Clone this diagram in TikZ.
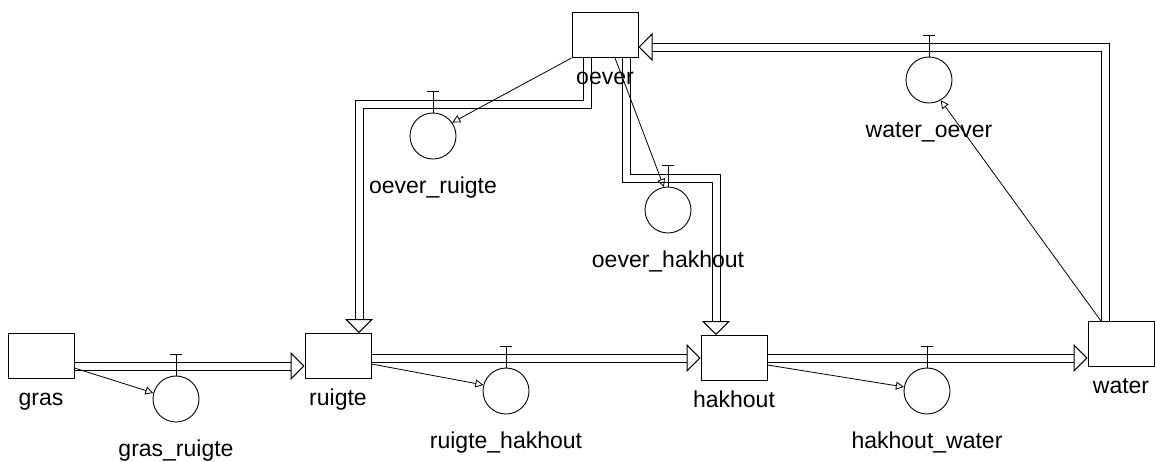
\documentclass[tikz,border=0pt]{standalone}
\usepackage{fontspec}
\setmainfont{Liberation Sans}
\usetikzlibrary{positioning, arrows.meta, calc}
\tikzset{
  stock/.style={draw, line width=1pt, fill=white, minimum width=66pt, minimum height=45pt, inner sep=0pt},
  valve/.style={draw, circle, line width=0.9pt, minimum size=46pt, inner sep=0pt},
  pipe/.style={draw, double, double distance=7pt, line width=1pt, line join=miter,
    -{Triangle[fill=white, length=14pt, width=28pt, line width=1pt]}},
  stem/.style={line width=1pt},
  link/.style={line width=0.8pt, -{Triangle[open, length=8pt, width=8pt, line width=0.8pt]}},
  lbl/.style={font=\fontsize{23}{23}\selectfont, inner sep=0pt, text height=16pt, text depth=5pt},
}
\newcommand{\valve}[4]{%
  \node[valve] (#1) at (#2,#3) {};
  \draw[stem] (#1.north) -- ++(0,-21) ++(-6,0) -- ++(12,0);
  \node[lbl, below=18pt of #1] (#1-l) {#4};
}

\begin{document}
\begin{tikzpicture}[x=1pt, y=-1pt]
\useasboundingbox (0,0) rectangle (1155,461);

% ── Voorraden ───────────────────────────────────────────────
\node[stock] (gras) at (41,356) {};
\node[stock] (ruigte) at (338,356) {};
\node[stock] (hakhout) at (734,358) {};
\node[stock] (water) at (1121,344) {};
\node[stock] (oever) at (605,35) {};

% ── Stromen ─────────────────────────────────────────────────
\draw[pipe] ([yshift=-10pt]gras.east) -- ([yshift=-10pt]ruigte.west);
\draw[pipe] ([yshift=-2pt]ruigte.east) -- (hakhout.west);
\draw[pipe] (hakhout.east) -- (hakhout.east -| water.west);
\draw[pipe] ([xshift=-18pt]oever.south) -- ++(0,46) -| ([xshift=21pt]ruigte.north);
\draw[pipe] ([xshift=21pt]oever.south) -- ++(0,120) -| ([xshift=-18pt]hakhout.north);
\draw[pipe] ([xshift=-16pt]water.north) |- ([yshift=-12pt]oever.east);

% namen van de voorraden
\node[lbl, below=10pt of gras] (gras-l) {gras};
\node[lbl, below=10pt of ruigte] (ruigte-l) {ruigte};
\node[lbl, below=10pt of hakhout] (hakhout-l) {hakhout};
\node[lbl, below=10pt of water] (water-l) {water};
\node[lbl, below=10pt of oever] (oever-l) {oever};

% ── Kranen ──────────────────────────────────────────────────
\valve{gr}{176}{399}{gras\_ruigte}
\valve{rh}{506}{391}{ruigte\_hakhout}
\valve{hw}{927}{391}{hakhout\_water}
\valve{or}{433}{136}{oever\_ruigte}
\valve{oh}{668}{210}{oever\_hakhout}
\valve{wo}{929}{80}{water\_oever}

% ── Verbindingen ────────────────────────────────────────────
\draw[link] ([yshift=-12pt]gras.east) -- (gr.165);
\draw[link] ([yshift=-8pt]ruigte.east) -- (rh.165);
\draw[link] ([yshift=-7pt]hakhout.east) -- (hw.170);
\draw[link] (oever.south west) -- (or.35);
\draw[link] ([xshift=10pt]oever.south) -- (oh.100);
\draw[link] ([xshift=-20pt]water.north) -- (wo.-60);

\end{tikzpicture}
\end{document}
